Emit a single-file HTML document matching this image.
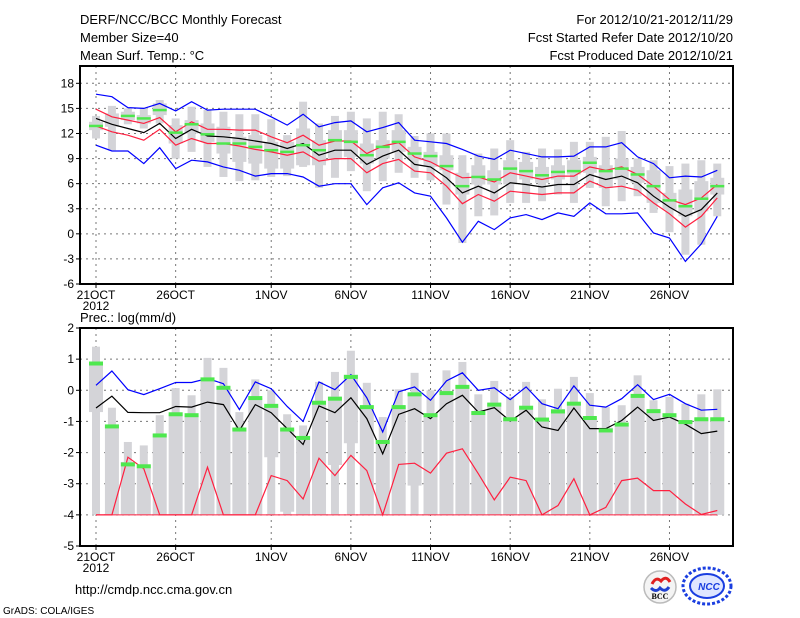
<!DOCTYPE html>
<html><head><meta charset="utf-8">
<style>
html,body{margin:0;padding:0;background:#fff;}
svg{display:block;font-family:"Liberation Sans",sans-serif;}
</style></head>
<body>
<svg id="chart" width="800" height="618" viewBox="0 0 800 618">
  <g font-size="13" fill="#000">
    <text x="80" y="24">DERF/NCC/BCC Monthly Forecast</text>
    <text x="80" y="42">Member Size=40</text>
    <text x="80" y="60">Mean Surf. Temp.: °C</text>
    <text x="733" y="24" text-anchor="end">For 2012/10/21-2012/11/29</text>
    <text x="733" y="42" text-anchor="end">Fcst Started Refer Date 2012/10/20</text>
    <text x="733" y="60" text-anchor="end">Fcst Produced Date 2012/10/21</text>
    <text x="80" y="322">Prec.: log(mm/d)</text>
    <text x="75" y="594">http://cmdp.ncc.cma.gov.cn</text>
    <text x="3" y="614" font-size="10">GrADS: COLA/IGES</text>
  </g>
  <g id="top"></g>
  <g id="bot"></g>
  <g>
    <circle cx="660" cy="587" r="16" fill="#f4f4f4" stroke="#bbb" stroke-width="1.5"/>
    <path d="M652 584 q4 -8 9 -3 q5 -6 9 1" fill="none" stroke="#e02020" stroke-width="3"/>
    <path d="M651 588 q5 5 9 0 q5 5 9 -1" fill="none" stroke="#2040d0" stroke-width="3"/>
    <text x="660" y="599" font-size="8" font-weight="bold" text-anchor="middle" font-family="Liberation Serif,serif">BCC</text>
  </g>
  <g>
    <ellipse cx="707" cy="586" rx="24" ry="18" fill="none" stroke="#1a3ee0" stroke-width="3" stroke-dasharray="3,2"/>
    <ellipse cx="707" cy="586" rx="17" ry="12" fill="#dfe6ff" stroke="#1a3ee0" stroke-width="2"/>
    <text x="709" y="590" font-size="10" font-weight="bold" font-style="italic" fill="#1a3ee0" text-anchor="middle">NCC</text>
  </g>
</svg>
<script>
// ---------- data ----------
const dayLabels = ["21OCT","26OCT","1NOV","6NOV","11NOV","16NOV","21NOV","26NOV"];
const dayLabelIdx = [0,5,11,16,21,26,31,36];
const tTicks = [-6,-3,0,3,6,9,12,15,18];
const pTicks = [-5,-4,-3,-2,-1,0,1,2];

const tBlueHi = [16.7,16.4,15.1,15.0,15.6,14.7,15.8,14.8,14.9,14.9,14.9,14.0,13.0,14.3,12.8,13.3,13.5,12.2,12.7,13.3,11.2,11.0,10.8,10.1,9.3,8.9,10.0,9.6,9.2,9.2,9.3,10.4,10.4,10.9,9.2,8.4,6.7,6.9,6.8,7.6];
const tBlueLo = [10.6,9.9,9.9,8.4,10.3,7.8,8.8,8.6,8.0,7.6,6.9,7.2,7.2,6.8,5.7,6.0,6.0,3.5,5.5,6.1,4.9,4.5,1.9,-1.0,1.5,0.5,1.9,2.3,1.7,2.5,2.1,3.7,2.4,2.4,2.5,0.1,-0.5,-3.3,-1.2,2.1];
const tMean = [13.8,13.1,12.6,12.1,13.2,11.4,12.5,11.7,11.6,11.4,11.1,10.8,10.2,10.8,9.4,10.0,10.0,8.3,9.3,10.0,8.3,8.0,6.7,4.9,5.7,4.9,6.1,5.9,5.6,5.9,5.9,7.1,6.5,6.9,6.1,4.5,3.2,2.1,2.9,4.9];
const tRedHi = [14.9,14.0,13.6,13.2,13.9,12.2,13.4,12.5,12.5,12.4,12.4,11.6,10.9,11.8,10.6,11.1,11.1,9.6,10.5,10.9,9.2,8.6,7.6,6.7,6.8,6.2,7.3,6.9,6.5,6.9,6.9,8.0,7.6,8.0,7.1,5.7,4.1,3.5,4.3,5.9];
const tRedLo = [12.9,12.2,11.8,11.2,12.5,10.6,11.4,10.8,10.8,10.5,10.1,9.8,9.4,9.8,8.7,9.0,9.0,7.3,8.4,8.9,7.5,7.3,5.7,3.6,4.7,3.9,5.1,4.9,4.7,4.9,4.9,6.3,5.5,5.7,5.2,3.7,2.4,0.8,2.1,4.3];
const tObs = [12.9,null,14.1,13.8,14.8,12.1,13.1,11.9,10.8,10.8,10.4,10.0,9.8,10.6,10.0,11.2,11.0,9.4,10.4,11.0,9.6,9.3,8.1,5.7,6.8,6.5,7.8,7.5,7.0,7.4,7.5,8.5,7.5,7.8,7.1,5.7,4.0,3.3,4.2,5.7];
const tWhiskHi = [14.1,15.3,15.0,15.1,16.0,13.8,15.2,14.8,14.6,14.3,14.3,13.7,11.8,15.8,13.2,14.1,14.6,13.8,14.6,14.3,11.7,12.0,12.0,9.4,9.6,10.2,11.2,9.8,10.2,10.1,11.0,11.0,11.6,12.3,9.0,8.8,8.1,8.4,8.8,8.4];
const tWhiskLo = [11.4,10.0,13.1,12.6,13.2,9.0,9.8,8.0,6.8,6.3,6.4,6.8,6.9,8.0,5.5,6.7,7.5,5.1,6.3,7.3,6.7,6.4,3.5,-1.1,2.1,2.2,3.7,3.7,3.9,4.7,3.7,5.5,3.3,3.9,4.5,2.5,0.2,-2.5,-1.3,2.1];
const tBoxHi = [13.4,14.4,14.6,14.2,15.6,13.0,13.6,13.2,12.8,11.6,11.8,11.0,11.0,12.6,11.2,12.4,12.4,10.8,11.2,12.4,10.4,9.8,9.4,7.3,8.2,7.6,8.8,8.6,8.0,8.2,8.8,9.2,8.2,9.0,8.0,7.6,4.9,5.3,6.3,6.7];
const tBoxLo = [12.4,12.8,13.6,13.2,14.2,10.8,12.0,11.0,9.6,8.6,8.4,7.8,7.8,8.2,8.2,9.0,9.2,8.4,9.0,9.8,8.8,8.0,7.6,4.7,5.9,5.9,5.9,6.5,6.1,6.5,7.1,7.3,5.5,6.5,6.1,3.7,2.9,2.1,2.7,4.7];

const pBlue = [0.16,0.62,0.02,-0.14,0.05,0.25,0.25,0.38,0.21,-0.62,0.27,0.05,-0.52,-1.0,0.27,0.02,0.5,-0.24,-1.34,-0.05,0.11,-0.32,0.3,0.56,0.0,0.08,-0.3,0.11,-0.43,-0.59,0.14,-0.48,-0.54,-0.27,0.18,-0.3,-0.13,-0.43,-0.64,-0.61];
const pMean = [-0.57,-0.19,-0.71,-0.72,-0.72,-0.52,-0.54,-0.38,-0.46,-1.29,-0.46,-0.72,-1.23,-1.74,-0.5,-0.72,-0.24,-0.91,-2.04,-0.77,-0.59,-0.91,-0.43,-0.16,-0.7,-0.56,-0.99,-0.64,-1.18,-1.29,-0.57,-1.23,-1.23,-0.97,-0.54,-0.97,-0.86,-1.09,-1.39,-1.31];
const pRed = [-4,-4,-2.15,-2.52,-4,-4,-4,-2.47,-4,-4,-4,-2.74,-2.9,-3.49,-2.18,-2.74,-2.09,-2.58,-4,-2.38,-2.34,-2.66,-2.02,-1.88,-2.68,-3.52,-2.79,-2.9,-4,-3.7,-2.84,-4,-3.76,-2.9,-2.82,-3.22,-3.22,-3.65,-3.99,-3.86];
const pObs = [0.86,-1.16,-2.38,-2.44,-1.45,-0.77,-0.8,0.35,0.08,-1.26,-0.25,-0.5,-1.26,-1.53,-0.4,-0.27,0.43,-0.54,-1.66,-0.54,-0.13,-0.8,-0.09,0.11,-0.73,-0.46,-0.93,-0.56,-0.94,-0.68,-0.43,-0.89,-1.29,-1.1,-0.18,-0.67,-0.8,-1.02,-0.93,-0.93];
const pWhiskHi = [1.4,-0.56,-1.66,-1.77,-0.8,0.07,-0.16,1.04,0.72,-0.7,0.35,0.0,-0.77,-1.13,0.27,0.59,1.27,0.24,-0.86,0.03,0.56,0.0,0.64,0.91,-0.13,0.3,-0.21,0.27,-0.29,0.05,0.43,-0.09,-0.54,-0.48,0.48,-0.32,-0.21,-0.43,-0.13,0.03];
const pWhiskLo = [-4,-4,-4,-4,-4,-4,-4,-4,-4,-4,-4,-4,-4,-4,-4,-4,-4,-4,-4,-4,-4,-4,-4,-4,-4,-4,-4,-4,-4,-4,-4,-4,-4,-4,-4,-4,-4,-4,-4,-4];
const pBoxHi = [0.85,-1.1,-2.3,-2.4,-1.4,-0.75,-0.8,0.35,0.1,-1.2,-0.25,-0.5,-1.25,-1.5,-0.4,-0.2,0.5,-0.5,-1.6,-0.5,-0.1,-0.8,-0.1,0.1,-0.7,-0.4,-0.9,-0.5,-0.9,-0.6,-0.4,-0.9,-1.2,-1.1,-0.2,-0.6,-0.8,-1.0,-0.9,-0.9];
const pBoxLo = [-0.7,-4,-4,-4,-4,-4,-4,-4,-4,-4,-4,-2.15,-3.9,-4,-4,-2.4,-1.7,-4,-4,-4,-3.06,-4,-4,-4,-4,-4,-4,-4,-4,-4,-4,-4,-4,-4,-4,-4,-4,-4,-4,-4];

// ---------- drawing ----------
const NS = "http://www.w3.org/2000/svg";
function mk(parent, tag, attrs){
  const e = document.createElementNS(NS, tag);
  for (const k in attrs) e.setAttribute(k, attrs[k]);
  parent.appendChild(e);
  return e;
}
const L = 80, R = 733;
function xDay(i){ return 96 + i * 15.93; }

function panel(g, y0, y1, vmin, vmax, ticks, prefix){
  const yv = v => y1 - (v - vmin) / (vmax - vmin) * (y1 - y0);
  // grid
  ticks.forEach(t => {
    if (t === vmin || t === vmax) return;
    const gl = mk(g, "line", {x1:L, x2:R, y1:yv(t), y2:yv(t), stroke:"#777", "stroke-width":1, "stroke-dasharray":"2,4"});
    
    
  });
  dayLabelIdx.forEach(i => {
    const gl = mk(g, "line", {x1:xDay(i), x2:xDay(i), y1:y0, y2:y1, stroke:"#777", "stroke-width":1, "stroke-dasharray":"2,4"});
    
    
  });
  // ticks & labels
  ticks.forEach(t => {
    const tk = mk(g, "line", {x1:L-4, x2:L, y1:yv(t), y2:yv(t), stroke:"#000"});
    
    
    const tx = mk(g, "text", {x:L-6, y:yv(t)+4, "text-anchor":"end", "font-size":12});
    tx.textContent = t;
    
    
  });
  dayLabelIdx.forEach((i, k) => {
    const tk = mk(g, "line", {x1:xDay(i), x2:xDay(i), y1:y1, y2:y1+4, stroke:"#000"});
    
    
    const tx = mk(g, "text", {x:xDay(i), y:y1+15, "text-anchor":"middle", "font-size":12});
    tx.textContent = dayLabels[k];
    
    
  });
  const yr = mk(g, "text", {x:xDay(0), y:y1+26, "text-anchor":"middle", "font-size":12});
  yr.textContent = "2012";
  
  
  return yv;
}

function bars(g, yv, wHi, wLo, bHi, bLo, prefix){
  for (let i = 0; i < wHi.length; i++){
    const x = xDay(i);
    const w = mk(g, "rect", {x:x-4, y:yv(wHi[i]), width:8, height:Math.max(0, yv(wLo[i]) - yv(wHi[i])), fill:"#d4d4d8"});
    
    
    const b = mk(g, "rect", {x:x-7, y:yv(bHi[i]), width:14, height:Math.max(0, yv(bLo[i]) - yv(bHi[i])), fill:"#d4d4d8"});
    
    
  }
}
function line(g, yv, vals, color, name){
  const pts = vals.map((v, i) => xDay(i).toFixed(1) + "," + yv(v).toFixed(1)).join(" ");
  const p = mk(g, "polyline", {points:pts, fill:"none", stroke:color, "stroke-width":1.2});
  
  
}
function obs(g, yv, vals, h, name){
  vals.forEach((v, i) => {
    if (v === null) return;
    const r = mk(g, "rect", {x:xDay(i)-7, y:yv(v)-h/2, width:14, height:h, fill:"#4ee84e"});
    
    
  });
}
function frame(g, y0, y1, name){
  const f = mk(g, "rect", {x:L, y:y0, width:R-L, height:y1-y0, fill:"none", stroke:"#000", "stroke-width":2});
  
  
}

// top panel
const gt = document.getElementById("top");
const yt = panel(gt, 66, 284, -6, 20.07, tTicks, "temp");
bars(gt, yt, tWhiskHi, tWhiskLo, tBoxHi, tBoxLo, "temp");
line(gt, yt, tBlueHi, "#0000ff", "temp-max-line");
line(gt, yt, tBlueLo, "#0000ff", "temp-min-line");
line(gt, yt, tRedHi, "#ff2040", "temp-upper-std-line");
line(gt, yt, tRedLo, "#ff2040", "temp-lower-std-line");
line(gt, yt, tMean, "#000000", "temp-mean-line");
obs(gt, yt, tObs, 2.5, "temp-observed-mark");
frame(gt, 66, 284, "temp-frame");

// bottom panel
const gb = document.getElementById("bot");
const yb = panel(gb, 328, 546, -5, 2, pTicks, "prec");
bars(gb, yb, pWhiskHi, pWhiskLo, pBoxHi, pBoxLo, "prec");
const base = mk(gb, "line", {x1:xDay(0), x2:xDay(39), y1:yb(-4), y2:yb(-4), stroke:"#ff2040", "stroke-width":1});


line(gb, yb, pBlue, "#0000ff", "prec-upper-line");
line(gb, yb, pRed, "#ff2040", "prec-lower-line");
line(gb, yb, pMean, "#000000", "prec-mean-line");
obs(gb, yb, pObs, 4, "prec-observed-mark");
frame(gb, 328, 546, "prec-frame");
</script>
</body></html>
